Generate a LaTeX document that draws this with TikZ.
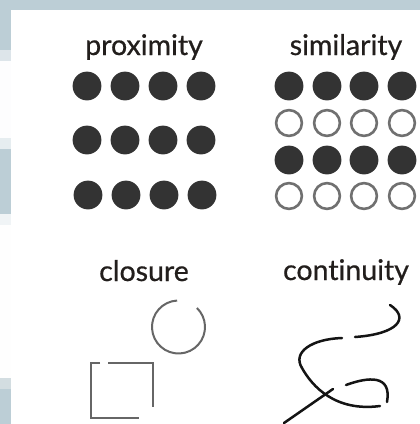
\documentclass[tikz,border=0pt]{standalone}
\usepackage{fontspec}
\setmainfont{Lato}[Ligatures=NoCommon, FakeBold=0.6]
\definecolor{bgblue}{RGB}{188,206,214}
\definecolor{bgpale}{RGB}{221,229,234}
\definecolor{bglight}{RGB}{230,237,240}
\definecolor{bggrey}{RGB}{211,221,225}
\definecolor{dotdark}{RGB}{51,51,51}
\definecolor{ringgray}{RGB}{112,112,112}
\definecolor{textdark}{RGB}{34,30,28}

\begin{document}
\begin{tikzpicture}[x=1pt, y=-1pt,
    title/.style={font=\fontsize{28.5}{32}\selectfont, text=textdark, anchor=base, inner sep=0pt},
    dot/.style={fill=dotdark},
    ring/.style={draw=ringgray, line width=2.6pt},
    gapline/.style={draw=black!60, line width=2pt},
    strand/.style={draw=black!92, line width=2.5pt, line cap=round}]
    \useasboundingbox (0,0) rectangle (420,424);
    % backdrop
    \fill[bgblue] (0,0) rectangle (420,424);
    \fill[white] (11,10) rectangle (420,424);
    \fill[bgpale] (0,50) rectangle (11,61);
    \fill[white!97!bgblue] (0,61) rectangle (11,138);
    \fill[bglight] (0,138) rectangle (11,149);
    \fill[bglight!60] (0,214) rectangle (11,225);
    \fill[white!98!bgblue] (0,225) rectangle (11,378);
    \fill[bggrey] (0,378) rectangle (11,389);
    % titles
    \node[title] (proxlabel) at (144,55) {proximity};
    \node[title] (simlabel) at (346,55) {similarity};
    \node[title] (closlabel) at (144,281) {closure};
    \node[title] (contlabel) at (346,280) {continuity};
    % proximity
    \fill[dot] (87,86) circle (14.4pt);
    \fill[dot] (125,86) circle (14.4pt);
    \fill[dot] (163,86) circle (14.4pt);
    \fill[dot] (201,86) circle (14.4pt);
    \fill[dot] (87,140) circle (14.4pt);
    \fill[dot] (125,140) circle (14.4pt);
    \fill[dot] (163,140) circle (14.4pt);
    \fill[dot] (201,140) circle (14.4pt);
    \fill[dot] (88,195) circle (14.4pt);
    \fill[dot] (126,195) circle (14.4pt);
    \fill[dot] (164,195) circle (14.4pt);
    \fill[dot] (202,195) circle (14.4pt);
    % similarity
    \fill[dot] (289,86) circle (14.4pt);
    \fill[dot] (327,86) circle (14.4pt);
    \fill[dot] (364,86) circle (14.4pt);
    \fill[dot] (402,86) circle (14.4pt);
    \draw[ring] (289,123) circle (12.9pt);
    \draw[ring] (327,123) circle (12.9pt);
    \draw[ring] (364,123) circle (12.9pt);
    \draw[ring] (402,123) circle (12.9pt);
    \fill[dot] (289,160) circle (14.4pt);
    \fill[dot] (327,160) circle (14.4pt);
    \fill[dot] (364,160) circle (14.4pt);
    \fill[dot] (402,160) circle (14.4pt);
    \draw[ring] (289,196) circle (12.9pt);
    \draw[ring] (327,196) circle (12.9pt);
    \draw[ring] (364,196) circle (12.9pt);
    \draw[ring] (402,196) circle (12.9pt);
    % closure
    \coordinate (ringc) at (178.5,327);
    \draw[gapline] ([shift={(93:26.5pt)}]ringc) arc[start angle=93, end angle=406, radius=26.5pt];
    \draw[gapline] (100,363) -- (91,363) -- (91,418) -- (139,418);
    \draw[gapline] (108,363) -- (153,363) -- (153,407);
    % continuity
    \draw[strand] (390,305) .. controls (410,318) and (398,334) .. (355,337);
    \draw[strand] (342,338) .. controls (312,339) and (292,352) .. (302,368)
        .. controls (312,386) and (335,412) .. (380,406);
    \draw[strand] (284,423) -- (333,389);
    \draw[strand] (346,385) .. controls (368,377) and (392,374) .. (387,402);
\end{tikzpicture}
\end{document}
